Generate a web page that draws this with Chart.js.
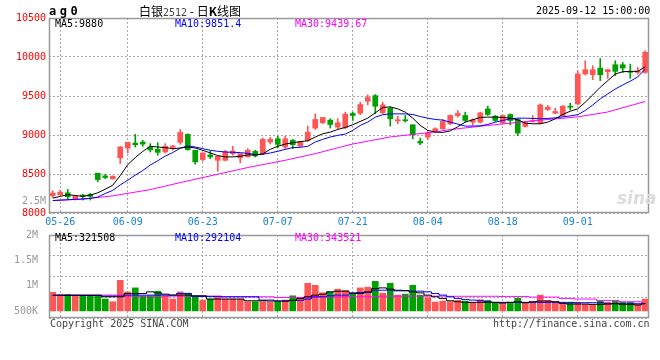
<!DOCTYPE html>
<html>
<head>
<meta charset="utf-8">
<script src="https://cdn.jsdelivr.net/npm/chart.js@4.4.1/dist/chart.umd.min.js"></script>
<style>
body{margin:0;background:#fff;}
#wrap{position:relative;width:660px;height:360px;overflow:hidden;font-family:'DejaVu Sans Mono',monospace;font-size:10px;}
canvas{position:absolute;left:0;}
.t{position:absolute;white-space:pre;line-height:12px;z-index:2;}
</style>
</head>
<body>
<div id="wrap">
<canvas id="kline" width="660" height="227" style="top:0"></canvas>
<canvas id="vol" width="660" height="114" style="top:226px"></canvas>

<div class="t" style="left:49px;top:4px;font:bold 12px 'DejaVu Sans Mono';letter-spacing:3.5px">ag0</div>
<div class="t" style="left:139px;top:3px;font-size:12px;line-height:16px;font-family:'Noto Sans CJK SC'">白银<span style="font:10px 'DejaVu Sans Mono';color:#444">2512</span> - 日<b>K</b>线图</div>
<div class="t" style="left:536px;top:5px;color:#000">2025-09-12 15:00:00</div>

<div class="t" style="left:55px;top:18px;color:#000">MA5:9880</div>
<div class="t" style="left:175px;top:18px;color:#0000ff">MA10:9851.4</div>
<div class="t" style="left:295px;top:18px;color:#ff00ff">MA30:9439.67</div>
<div class="t" style="left:22px;top:195px;color:#999">2.5M</div>
<div class="t" style="left:617px;top:188px;font:italic bold 17px 'DejaVu Sans';color:#dcdcdc">sina</div>

<div class="t" style="left:55px;top:232px;color:#000">MA5:321508</div>
<div class="t" style="left:175px;top:232px;color:#0000ff">MA10:292104</div>
<div class="t" style="left:295px;top:232px;color:#ff00ff">MA30:343521</div>

<div class="t" style="left:50px;top:318px;color:#444">Copyright 2025 SINA.COM</div>
<div class="t" style="left:493px;top:318px;color:#444">http://finance.sina.com.cn</div>
</div>

<script>
var dates = ['05-23','05-26','05-27','05-28','05-29','05-30','06-03','06-04','06-05','06-06',
  '06-09','06-10','06-11','06-12','06-13','06-16','06-17','06-18','06-19','06-20',
  '06-23','06-24','06-25','06-26','06-27','06-30','07-01','07-02','07-03','07-04',
  '07-07','07-08','07-09','07-10','07-11','07-14','07-15','07-16','07-17','07-18',
  '07-21','07-22','07-23','07-24','07-25','07-28','07-29','07-30','07-31','08-01',
  '08-04','08-05','08-06','08-07','08-08','08-11','08-12','08-13','08-14','08-15',
  '08-18','08-19','08-20','08-21','08-22','08-25','08-26','08-27','08-28','08-29',
  '09-01','09-02','09-03','09-04','09-05','09-08','09-09','09-10','09-11','09-12'];
var shownDates = ['05-26','06-09','06-23','07-07','07-21','08-04','08-18','09-01'];

var opens = [8221,8234,8259,8179,8230,8238,8510,8476,8438,8706,
  8833,8897,8910,8846,8816,8782,8842,8906,9008,8804,
  8685,8744,8676,8676,8761,8706,8719,8791,8761,8910,
  8952,8846,8931,8859,8931,9088,9157,9191,9101,9093,
  9276,9280,9433,9505,9284,9344,9182,9195,9131,8918,
  8973,9050,9080,9144,9250,9250,9165,9165,9335,9242,
  9152,9263,9199,9110,9174,9152,9327,9280,9250,9369,
  9399,9782,9773,9858,9811,9901,9901,9811,9803,9803];
var highs = [8285,8293,8302,8225,8242,8251,8510,8497,8476,8855,
  8906,9008,8931,8889,8901,8889,8867,9071,9016,8804,
  8770,8795,8727,8804,8855,8761,8825,8804,8961,8970,
  8986,8986,8944,8918,9114,9271,9225,9208,9208,9293,
  9293,9420,9514,9518,9420,9356,9242,9250,9131,8961,
  9037,9093,9199,9259,9314,9293,9208,9293,9369,9250,
  9250,9271,9208,9174,9250,9399,9378,9344,9378,9407,
  9824,9952,9888,9981,9845,9952,9930,9909,9866,10080];
var lows = [8200,8225,8174,8166,8166,8166,8400,8438,8434,8634,
  8770,8846,8855,8782,8740,8770,8804,8880,8804,8625,
  8663,8697,8536,8668,8740,8642,8719,8719,8748,8884,
  8833,8825,8825,8846,8918,9071,9144,9088,9080,9080,
  9186,9259,9386,9271,9271,9114,9144,9165,8952,8876,
  8940,9037,9071,9131,9229,9165,9123,9152,9250,9174,
  9144,9131,8991,9101,9165,9144,9314,9271,9242,9322,
  9386,9769,9709,9697,9726,9760,9803,9726,9782,9790];
var closes = [8255,8268,8208,8217,8213,8213,8429,8455,8472,8846,
  8906,8876,8884,8808,8778,8855,8859,9033,8812,8655,
  8770,8719,8727,8787,8795,8761,8804,8731,8944,8944,
  8880,8952,8876,8918,9037,9199,9225,9135,9157,9267,
  9250,9390,9480,9369,9386,9208,9195,9182,9003,8897,
  9025,9080,9174,9250,9276,9186,9195,9284,9263,9186,
  9250,9186,9025,9157,9182,9386,9356,9301,9369,9356,
  9782,9837,9837,9773,9837,9816,9858,9803,9820,10060];

var ma5 = [8191,8213,8234,8225,8213,8230,8259,8305,8356,8480,
  8620,8710,8790,8855,8846,8838,8825,8833,8846,8833,
  8804,8770,8736,8719,8719,8727,8745,8744,8757,8816,
  8855,8884,8901,8914,8927,8974,9016,9037,9071,9097,
  9131,9174,9216,9284,9352,9361,9335,9293,9216,9123,
  9059,9037,9033,9052,9106,9165,9195,9225,9229,9229,
  9225,9216,9195,9152,9144,9144,9165,9208,9263,9305,
  9335,9420,9514,9612,9697,9782,9811,9816,9816,9875];
var ma10 = [8160,8165,8170,8175,8180,8187,8205,8250,8290,8360,
  8420,8485,8545,8615,8670,8730,8775,8830,8860,8846,
  8825,8804,8791,8782,8778,8774,8765,8750,8753,8770,
  8791,8816,8838,8842,8855,8910,8944,8974,8995,9012,
  9059,9123,9165,9229,9259,9271,9271,9271,9263,9237,
  9216,9199,9191,9165,9140,9114,9114,9118,9135,9165,
  9186,9208,9216,9216,9212,9208,9212,9220,9233,9245,
  9260,9314,9386,9463,9527,9590,9641,9690,9745,9845];
var ma30 = [8160,null,null,null,8178,null,null,null,8220,null,
  null,null,null,8300,null,null,null,8390,null,null,
  null,null,8497,null,null,null,8583,null,null,null,
  null,8676,null,null,null,8761,null,null,null,null,
  8885,null,null,null,null,8975,null,null,null,null,
  null,9040,null,9070,null,null,null,null,9122,null,
  null,null,null,null,null,9190,null,null,null,null,
  9232,null,null,null,9295,null,null,null,null,9430];
var priceTicks = [8000,8500,9000,9500,10000,10500];

// volume, in thousands
var vol = [870,825,825,812,792,799,792,734,682,1104,
  877,955,792,799,890,792,734,877,851,792,
  714,734,779,734,734,734,682,682,682,669,
  682,714,799,747,1045,1006,857,877,929,903,
  838,955,968,1084,851,1045,812,831,1006,812,
  760,675,695,682,708,695,669,721,708,669,
  669,649,753,669,669,812,708,669,669,669,
  669,630,630,695,669,695,669,669,630,734];
var volMa5 = [805,805,805,805,805,805,805,779,779,779,
  844,844,844,877,857,831,812,812,812,799,
  799,734,734,734,734,734,701,701,701,695,
  695,695,708,747,779,812,831,877,890,890,
  857,844,877,941,955,929,909,903,877,857,
  812,779,747,701,682,669,669,669,669,669,
  656,669,682,662,682,695,695,682,649,636,
  636,636,630,630,636,643,630,630,617,643];
var volMa10 = [812,812,812,812,812,812,812,792,792,792,
  812,812,812,812,812,812,812,844,844,786,
  786,786,786,779,779,779,779,779,714,714,
  695,695,708,708,734,779,779,799,812,812,
  844,864,864,909,909,909,896,896,890,890,
  877,844,812,779,747,727,714,701,682,669,
  669,669,669,669,669,669,669,669,669,669,
  662,662,662,662,643,643,643,643,643,643];
var volMa30 = [812,812,812,812,812,812,812,812,812,812,
  792,792,792,792,792,792,792,792,792,792,
  792,792,792,779,779,779,779,779,779,779,
  766,766,766,766,766,766,779,779,779,779,
  779,779,779,779,792,792,792,792,792,792,
  792,792,792,789,789,789,789,789,789,789,
  786,786,786,786,773,773,773,773,747,747,
  734,734,734,708,708,708,682,682,682,649];
var volTicks = [500,1000,1500,2000];

var UP = '#ff5555', DOWN = '#00a000';
var VOL_MIN = 360, VOL_MAX = 2000, VOL_BASE = 500;
var monoFont = {family: "'DejaVu Sans Mono', monospace", size: 10};

var upDown = closes.map(function(c, i){ return c >= opens[i] ? UP : DOWN; });

var frame = {
  id: 'frame',
  afterDatasetsDraw: function(chart){
    var a = chart.chartArea, c = chart.ctx;
    c.save();
    c.strokeStyle = '#999';
    c.lineWidth = 1.5;
    c.strokeRect(a.left + 0.5, a.top + 0.5, a.right - a.left - 1, a.bottom - a.top - 1);
    c.restore();
  }
};

function xAxis(showLabels){
  return {
    grid: {
      offset: false,
      drawTicks: false,
      color: function(c){ return shownDates.indexOf(dates[c.index]) >= 0 ? '#aaa' : 'rgba(0,0,0,0)'; }
    },
    border: {display: false, dash: [2, 2]},
    ticks: {
      display: showLabels, autoSkip: false, maxRotation: 0, padding: 3,
      color: '#1b85d6', font: monoFont,
      callback: function(v, i){ return shownDates.indexOf(dates[i]) >= 0 ? dates[i] : ''; }
    },
    afterFit: function(s){ s.height = showLabels ? 14 : 0; }
  };
}

function maLine(data, color){
  return {type: 'line', data: data, borderColor: color, borderWidth: 1, pointRadius: 0,
    tension: 0, spanGaps: true, order: 0};
}

new Chart(document.getElementById('kline'), {
  type: 'bar',
  data: {
    labels: dates,
    datasets: [
      maLine(ma5, '#000000'),
      maLine(ma10, '#0000ff'),
      maLine(ma30, '#ff00ff'),
      {
        data: opens.map(function(o, i){ return [o, closes[i]]; }),
        backgroundColor: upDown, barThickness: 5, minBarLength: 1, grouped: false, order: 1
      },
      {
        data: lows.map(function(l, i){ return [l, highs[i]]; }),
        backgroundColor: upDown, barThickness: 1, grouped: false, order: 2
      }
    ]
  },
  options: {
    responsive: false, animation: false, events: [],
    layout: {padding: {top: 18, right: 11, left: 0, bottom: 0}},
    plugins: {legend: {display: false}, tooltip: {enabled: false}},
    scales: {
      x: xAxis(true),
      y: {
        min: 8000, max: 10500,
        afterBuildTicks: function(s){
          s.ticks = priceTicks.map(function(v){ return {value: v}; });
        },
        ticks: {color: '#ff0000', font: monoFont, padding: 3,
          callback: function(v){ return String(v); }},
        grid: {color: '#aaa', drawTicks: false},
        border: {display: false, dash: [2, 2]},
        afterFit: function(s){ s.width = 49; }
      }
    }
  },
  plugins: [frame]
});

new Chart(document.getElementById('vol'), {
  type: 'bar',
  data: {
    labels: dates,
    datasets: [
      Object.assign(maLine(volMa5, '#000000'), {stepped: 'middle'}),
      Object.assign(maLine(volMa10, '#0000ff'), {stepped: 'middle'}),
      Object.assign(maLine(volMa30, '#ff00ff'), {stepped: 'middle'}),
      {
        data: vol.map(function(v){ return [VOL_BASE, v]; }),
        backgroundColor: upDown, barThickness: 6, grouped: false, order: 1
      }
    ]
  },
  options: {
    responsive: false, animation: false, events: [],
    layout: {padding: {top: 8, right: 11, left: 0, bottom: 22}},
    plugins: {legend: {display: false}, tooltip: {enabled: false}},
    scales: {
      x: xAxis(false),
      y: {
        position: 'left', min: VOL_MIN, max: VOL_MAX,
        afterBuildTicks: function(s){
          s.ticks = [0, 1, 2, 3, 4].map(function(i){ return {value: VOL_MIN + i * (VOL_MAX - VOL_MIN) / 4}; });
        },
        ticks: {display: false},
        grid: {color: '#aaa', drawTicks: false},
        border: {display: false, dash: [2, 2]},
        afterFit: function(s){ s.width = 0; }
      },
      yl: {
        position: 'left', min: VOL_MIN, max: VOL_MAX,
        afterBuildTicks: function(s){
          s.ticks = volTicks.map(function(v){ return {value: v}; });
        },
        ticks: {color: '#999', font: monoFont, padding: 3,
          callback: function(v){ return v >= 1000 ? (v / 1000) + 'M' : v + 'K'; }},
        grid: {display: false},
        border: {display: false},
        afterFit: function(s){ s.width = 49; }
      }
    }
  },
  plugins: [frame]
});
</script>
</body>
</html>
